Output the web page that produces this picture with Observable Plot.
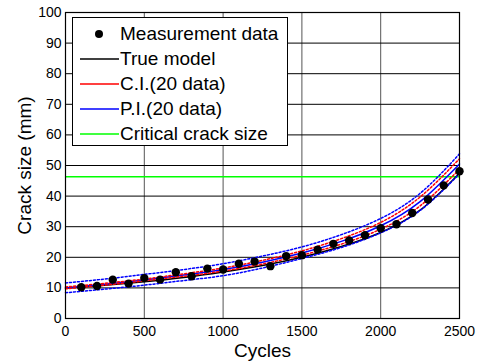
<!DOCTYPE html>
<html>
<head>
<meta charset="utf-8">
<script src="https://cdn.jsdelivr.net/npm/d3@7"></script>
<script src="https://cdn.jsdelivr.net/npm/@observablehq/plot@0.6"></script>
<style>
  html, body { margin: 0; padding: 0; background: #fff; }
  #wrap { position: relative; width: 480px; height: 362px; font-family: "Liberation Sans", Arial, sans-serif; }
  #wrap svg { font-family: "Liberation Sans", Arial, sans-serif; }
  g[aria-label="x-axis label"] text, g[aria-label="y-axis label"] text { font-size: 19px; }
  #legend { position: absolute; left: 72px; top: 17px; width: 216px; height: 129px; background: #fff;
    border: 1px solid #000; box-sizing: border-box; font-size: 19px; color: #000; }
  #legend .row { position: absolute; left: 0; height: 25px; display: flex; align-items: center; }
  #legend .row svg { width: 40px; height: 20px; margin-left: 6px; }
  #legend .row span { margin-left: 1px; white-space: nowrap; }
</style>
</head>
<body>
<div id="wrap"></div>
<script>
// Measurement data
const cycles = [100,200,300,400,500,600,700,800,900,1000,1100,1200,1300,1400,1500,1600,1700,1800,1900,2000,2100,2200,2300,2400,2500];
const crack  = [10.2,10.6,12.7,11.4,13.2,12.7,15.1,13.8,16.3,16.0,17.9,18.6,17.1,20.4,20.7,22.5,24.4,25.5,27.2,29.5,30.8,34.5,38.9,43.5,48.1];

// Model curves (read at these cycles)
const modelCycles = [0,250,500,750,1000,1250,1500,1750,2000,2250,2500];
const trueModel = [10.0,10.9,12.0,13.4,15.2,17.3,20.0,23.5,28.1,35.4,47.5];
const median    = [10.0,11.2,12.6,14.2,16.0,18.4,21.4,25.2,30.3,38.2,50.5];
const ciLow     = [9.7,10.9,12.3,13.8,15.5,17.8,20.7,24.3,29.2,36.8,48.8];
const ciHigh    = [10.3,11.5,12.9,14.6,16.5,19.0,22.1,26.1,31.4,39.7,52.2];
const piLow     = [8.4,9.6,10.9,12.4,14.0,16.5,19.6,23.2,28.0,35.3,47.3];
const piHigh    = [11.6,12.9,14.4,16.0,17.9,20.4,23.4,27.4,32.7,40.9,53.8];
const criticalSize = 46.3;

const xTicks = [0,500,1000,1500,2000,2500];
const yTicks = [0,10,20,30,40,50,60,70,80,90,100];

const legendLabels = ["Measurement data","True model","C.I.(20 data)","P.I.(20 data)","Critical crack size"];
const legendColors = ["#000","#000","#ff0000","#0000ff","#00ff00"];

const pts = cycles.map((c,i) => ({x:c, y:crack[i]}));
const curve = arr => modelCycles.map((c,i) => ({x:c, y:arr[i]}));
const dotted = "2,2";

const chart = Plot.plot({
  width: 480, height: 362,
  marginLeft: 65, marginRight: 21, marginTop: 12, marginBottom: 44,
  style: {fontSize: "14px", background: "#fff", color: "#000"},
  x: {domain: [0,2500], ticks: xTicks, label: "Cycles"},
  y: {domain: [0,100], ticks: yTicks, label: "Crack size (mm)"},
  marks: [
    Plot.ruleX(xTicks, {stroke: "#555", strokeWidth: 1}),
    Plot.ruleY(yTicks, {stroke: "#000", strokeWidth: 1}),
    Plot.ruleY([criticalSize], {stroke: "#00ff00", strokeWidth: 1.5}),
    Plot.line(curve(trueModel), {x:"x", y:"y", stroke:"#000", strokeWidth:1.5, curve:"natural"}),
    Plot.line(curve(median), {x:"x", y:"y", stroke:"#0000ff", strokeWidth:1.5, curve:"natural"}),
    Plot.line(curve(ciLow), {x:"x", y:"y", stroke:"#ff0000", strokeWidth:1.5, strokeDasharray:dotted, curve:"natural"}),
    Plot.line(curve(ciHigh), {x:"x", y:"y", stroke:"#ff0000", strokeWidth:1.5, strokeDasharray:dotted, curve:"natural"}),
    Plot.line(curve(piLow), {x:"x", y:"y", stroke:"#0000ff", strokeWidth:1.5, strokeDasharray:dotted, curve:"natural"}),
    Plot.line(curve(piHigh), {x:"x", y:"y", stroke:"#0000ff", strokeWidth:1.5, strokeDasharray:dotted, curve:"natural"}),
    Plot.dot(pts, {x:"x", y:"y", r:4.2, fill:"#000", stroke:"none"}),
    Plot.frame({stroke:"#000", strokeWidth:1.2}),
    Plot.axisX({ticks: xTicks, tickFormat: d => String(d), tickSize: 0, tickPadding: 8, label: "Cycles", labelAnchor: "center", labelArrow: "none", labelOffset: 38}),
    Plot.axisY({ticks: yTicks, tickFormat: d => String(d), tickSize: 0, tickPadding: 4, label: "Crack size (mm)", labelAnchor: "center", labelArrow: "none", labelOffset: 48})
  ]
});
const wrap = document.getElementById("wrap");
wrap.appendChild(chart);

// Legend overlay
const legend = document.createElement("div");
legend.id = "legend";
legendLabels.forEach((lab, i) => {
  const row = document.createElement("div");
  row.className = "row";
  row.style.top = (3 + i * 25) + "px";
  const ns = "http://www.w3.org/2000/svg";
  const s = document.createElementNS(ns, "svg");
  if (i === 0) {
    const c = document.createElementNS(ns, "circle");
    c.setAttribute("cx", 20); c.setAttribute("cy", 10); c.setAttribute("r", 4); c.setAttribute("fill", legendColors[i]);
    s.appendChild(c);
  } else {
    const l = document.createElementNS(ns, "line");
    l.setAttribute("x1", 1); l.setAttribute("x2", 40); l.setAttribute("y1", 10); l.setAttribute("y2", 10);
    l.setAttribute("stroke", legendColors[i]); l.setAttribute("stroke-width", 1.5);
    s.appendChild(l);
  }
  row.appendChild(s);
  const t = document.createElement("span");
  t.textContent = lab;
  row.appendChild(t);
  legend.appendChild(row);
});
wrap.appendChild(legend);
</script>
</body>
</html>
